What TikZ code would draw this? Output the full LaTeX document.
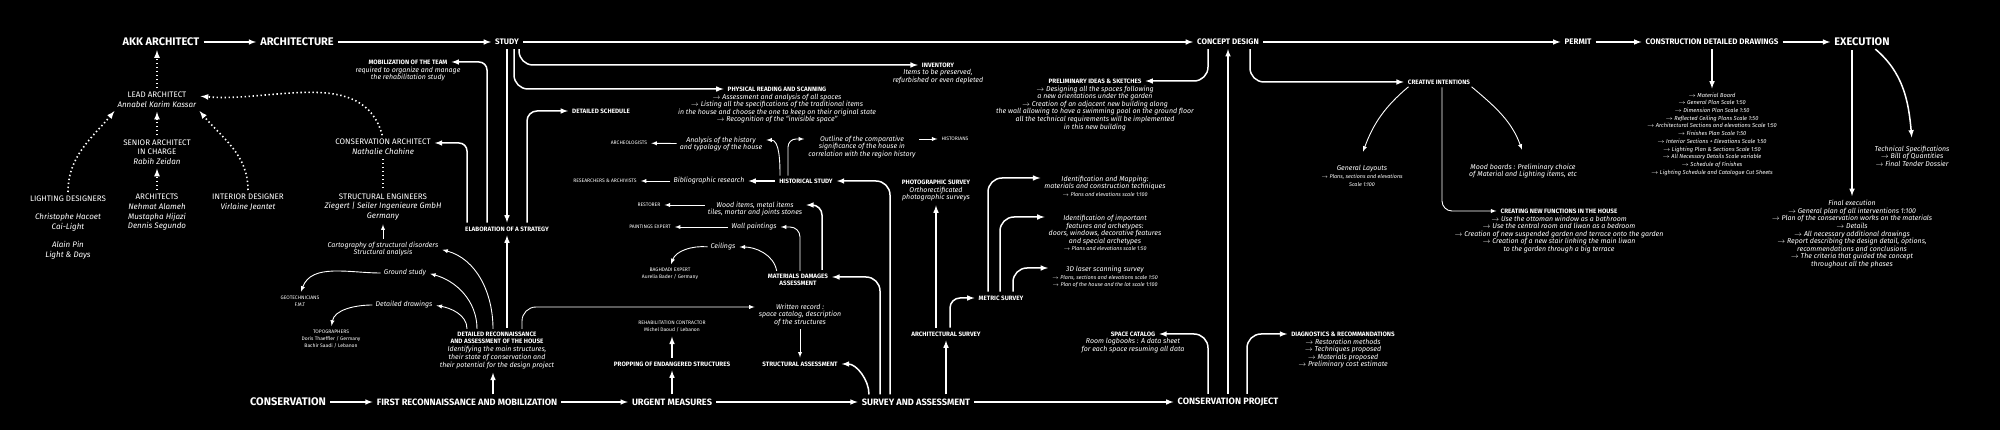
\documentclass[tikz,border=0pt]{standalone}
\usepackage{fontspec}
\setmainfont{Fira Sans}
\usetikzlibrary{positioning}

\newcommand{\arw}{$\rightarrow$\ }
\newcommand{\tinyline}{\fontsize{5.4}{7.6}\selectfont}

\tikzset{
  mainstep/.style={font=\bfseries\fontsize{8}{9.6}\selectfont},
  midstep/.style={font=\bfseries\fontsize{9.2}{11}\selectfont},
  largestep/.style={font=\bfseries\fontsize{11}{13}\selectfont},
  headline/.style={font=\bfseries\fontsize{6.3}{7.4}\selectfont, align=center},
  notetext/.style={font=\itshape\fontsize{7}{7.6}\selectfont, align=center},
  smalltext/.style={font=\itshape\fontsize{5.7}{7.7}\selectfont, align=center},
  whotext/.style={font=\fontsize{5}{7}\selectfont, align=center},
  crewtext/.style={font=\fontsize{8}{9.6}\selectfont, align=center},
  flowarrow/.style={-latex, line width=1.5pt, shorten >=3pt, shorten <=3pt},
  linkarrow/.style={-latex, line width=0.9pt, shorten >=3pt, shorten <=2pt},
  teamarrow/.style={-latex, line width=1.6pt, dash pattern=on 1.4pt off 2.6pt, shorten >=3pt, shorten <=3pt},
}

\begin{document}
\begin{tikzpicture}[x=1pt, y=-1pt, color=white, every node/.style={inner sep=1pt}]
  \useasboundingbox (0,0) rectangle (2000,430);
  \fill[black] (0,0) rectangle (2000,430);
  %
  % Architecture line:
  \node[largestep] (akk) at (161,42) {AKK ARCHITECT};
  \node[largestep] (archi) at (297,42) {ARCHITECTURE};
  \node[mainstep] (study) at (507,42) {STUDY};
  \node[mainstep] (concept) at (1228,42) {CONCEPT DESIGN};
  \node[mainstep] (permit) at (1578,42) {PERMIT};
  \node[mainstep] (cdd) at (1712,42) {CONSTRUCTION DETAILED DRAWINGS};
  \node[largestep] (exec) at (1862,42) {EXECUTION};
  % Conservation line:
  \node[largestep] (cons) at (288,402) {CONSERVATION};
  \node[midstep] (firstrec) at (467,402) {FIRST RECONNAISSANCE AND MOBILIZATION};
  \node[midstep] (urgent) at (672,402) {URGENT MEASURES};
  \node[midstep] (survey) at (916,402) {SURVEY AND ASSESSMENT};
  \node[midstep] (consproj) at (1228,402) {CONSERVATION PROJECT};
  %
  % Team:
  \node[crewtext] (lead) at (157,100) {LEAD ARCHITECT\\\textit{Annabel Karim Kassar}};
  \node[crewtext] (senior) at (157,152) {SENIOR ARCHITECT\\IN CHARGE\\\textit{Rabih Zeidan}};
  \node[crewtext, anchor=north] (archs) at (157,193) {ARCHITECTS\\\textit{Nehmat Alameh}\\\textit{Mustapha Hijazi}\\\textit{Dennis Segundo}};
  \node[crewtext, anchor=north] (lighting) at (68,195) {LIGHTING DESIGNERS\\[8pt]\textit{Christophe Hacoet}\\\textit{Cai-Light}\\[9pt]\textit{Alain Pin}\\\textit{Light \& Days}};
  \node[crewtext, anchor=north] (interior) at (248,193) {INTERIOR DESIGNER\\\textit{Virlaine Jeantet}};
  \node[crewtext] (consarch) at (383,147) {CONSERVATION ARCHITECT\\\textit{Nathalie Chahine}};
  \node[crewtext] (structeng) at (383,207) {STRUCTURAL ENGINEERS\\\textit{Ziegert | Seiler Ingenieure GmbH}\\\textit{Germany}};
  %
  % Study:
  \node[headline] (mobil) at (408,62) {MOBILIZATION OF THE TEAM};
  \node[notetext, below=0pt of mobil] (mobilnote) {required to organize and manage\\the rehabilitation study};
  \node[headline] (elab) at (507,229) {ELABORATION OF A STRATEGY};
  \node[headline] (sched) at (601,111) {DETAILED SCHEDULE};
  \node[headline] (inventory) at (938,65) {INVENTORY};
  \node[notetext, below=0pt of inventory] (invnote) {Items to be preserved,\\refurbished or even depleted};
  \node[headline] (physical) at (777,89) {PHYSICAL READING AND SCANNING};
  \node[notetext, below=0pt of physical] (physnote) {\arw Assessment and analysis of all spaces\\
    \arw Listing all the specifications of the traditional items\\
    in the house and choose the one to keep on their original state\\
    \arw Recognition of the ``invisible space''};
  %
  % Reconnaissance:
  \node[notetext] (cartog) at (383,249) {Cartography of structural disorders\\Structural analysis};
  \node[notetext] (ground) at (405,273) {Ground study};
  \node[whotext] (geotech) at (300,301) {GEOTECHNICIANS\\F.M.T};
  \node[notetext] (drawings) at (404,305) {Detailed drawings};
  \node[whotext] (topo) at (331,339) {TOPOGRAPHERS\\Doris Thaeffler / Germany\\Bachir Saadi / Lebanon};
  \node[headline] (detrec) at (497,338) {DETAILED RECONNAISSANCE\\AND ASSESSMENT OF THE HOUSE};
  \node[notetext, below=0pt of detrec] (detrecnote) {Identifying the main structures,\\their state of conservation and\\their potential for the design project};
  \node[headline] (propping) at (672,364) {PROPPING OF ENDANGERED STRUCTURES};
  \node[whotext] (contractor) at (672,327) {REHABILITATION CONTRACTOR\\Michel Daoud / Lebanon};
  \node[notetext] (written) at (800,315) {Written record :\\space catalog, description\\of the structures};
  \node[headline] (structass) at (800,364) {STRUCTURAL ASSESSMENT};
  %
  % Materials and history:
  \node[headline] (materials) at (798,280) {MATERIALS DAMAGES\\ASSESSMENT};
  \node[notetext] (wood) at (755,209) {Wood items, metal items\\tiles, mortar and joints stones};
  \node[whotext] (restorer) at (649,205) {RESTORER};
  \node[notetext] (wallpaint) at (754,227) {Wall paintings};
  \node[whotext] (paintexp) at (650,227) {PAINTINGS EXPERT};
  \node[notetext] (ceilings) at (723,247) {Ceilings};
  \node[whotext] (baghdadi) at (670,274) {BAGHDADI EXPERT\\Aurelia Bader / Germany};
  \node[headline] (hist) at (806,181) {HISTORICAL STUDY};
  \node[notetext] (biblio) at (709,181) {Bibliographic research};
  \node[whotext] (research) at (605,181) {RESEARCHERS \& ARCHIVISTS};
  \node[notetext] (analysis) at (721,144) {Analysis of the history\\and typology of the house};
  \node[whotext] (archeo) at (629,143) {ARCHEOLOGISTS};
  \node[notetext] (outline) at (862,147) {Outline of the comparative\\significance of the house in\\correlation with the region history};
  \node[whotext] (historians) at (955,139) {HISTORIANS};
  %
  % Surveys:
  \node[headline] (photo) at (936,182) {PHOTOGRAPHIC SURVEY};
  \node[notetext, below=0pt of photo] (photonote) {Orthorectificated\\photographic surveys};
  \node[headline] (archsurvey) at (946,334) {ARCHITECTURAL SURVEY};
  \node[headline] (metric) at (1001,298) {METRIC SURVEY};
  \node[notetext] (mapping) at (1105,186) {Identification and Mapping:\\materials and construction techniques\\{\tinyline\arw Plans and elevations scale 1:100}};
  \node[notetext] (features) at (1105,233) {Identification of important\\features and archetypes:\\doors, windows, decorative features\\and special archetypes\\{\tinyline\arw Plans and elevations scale 1:50}};
  \node[notetext] (laser) at (1105,277) {3D laser scanning survey\\{\tinyline\arw Plans, sections and elevations scale 1:50}\\{\tinyline\arw Plan of the house and the lot scale 1:100}};
  %
  % Concept and conservation project:
  \node[headline] (prelim) at (1095,81) {PRELIMINARY IDEAS \& SKETCHES};
  \node[notetext, below=0pt of prelim] (prelimnote) {\arw Designing all the spaces following\\
    a new orientations under the garden\\
    \arw Creation of an adjacent new building along\\
    the wall allowing to have a swimming pool on the ground floor\\
    all the technical requirements will be implemented\\
    in this new building};
  \node[headline] (spacecat) at (1133,334) {SPACE CATALOG};
  \node[notetext, below=0pt of spacecat] (spacenote) {Room logbooks : A data sheet\\for each space resuming all data};
  \node[headline] (diag) at (1343,334) {DIAGNOSTICS \& RECOMMANDATIONS};
  \node[notetext, below=0pt of diag] (diagnote) {\arw Restoration methods\\\arw Techniques proposed\\\arw Materials proposed\\\arw Preliminary cost estimate};
  \node[headline] (creative) at (1439,82) {CREATIVE INTENTIONS};
  \node[notetext] (layouts) at (1362,176) {General Layouts\\{\tinyline\arw Plans, sections and elevations}\\{\tinyline Scale 1:100}};
  \node[notetext] (mood) at (1523,171) {Mood boards : Preliminary choice\\of Material and Lighting items, etc};
  \node[headline] (newfunc) at (1559,211) {CREATING NEW FUNCTIONS IN THE HOUSE};
  \node[notetext, below=0pt of newfunc] (newfuncnote) {\arw Use the ottoman window as a bathroom\\
    \arw Use the central room and liwan as a bedroom\\
    \arw Creation of new suspended garden and terrace onto the garden\\
    \arw Creation of a new stair linking the main liwan\\
    to the garden through a big terrace};
  %
  % Drawings and execution:
  \node[smalltext] (cddlist) at (1712,134) {\arw Material Board\\
    \arw General Plan Scale 1:50\\
    \arw Dimension Plan Scale 1:50\\
    \arw Reflected Ceiling Plans Scale 1:50\\
    \arw Architectural Sections and elevations Scale 1:50\\
    \arw Finishes Plan Scale 1:50\\
    \arw Interior Sections + Elevations Scale 1:50\\
    \arw Lighting Plan \& Sections Scale 1:50\\
    \arw All Necessary Details Scale variable\\
    \arw Schedule of Finishes\\
    \arw Lighting Schedule and Catalogue Cut Sheets};
  \node[notetext] (techspec) at (1912,156) {Technical Specifications\\\arw Bill of Quantities\\\arw Final Tender Dossier};
  \node[notetext, anchor=north] (finalexec) at (1852,199) {Final execution\\
    \arw General plan of all interventions 1:100\\
    \arw Plan of the conservation works on the materials\\
    \arw Details\\
    \arw All necessary additional drawings\\
    \arw Report describing the design detail, options,\\
    recommendations and conclusions\\
    \arw The criteria that guided the concept\\
    throughout all the phases};
  %
  % Main Edges:
  \draw[flowarrow] (akk) -- (archi);
  \draw[flowarrow] (archi) -- (study);
  \draw[flowarrow] (study) -- (concept);
  \draw[flowarrow] (concept) -- (permit);
  \draw[flowarrow] (permit) -- (cdd);
  \draw[flowarrow] (cdd) -- (exec);
  \draw[flowarrow] (cons) -- (firstrec);
  \draw[flowarrow] (firstrec) -- (urgent);
  \draw[flowarrow] (urgent) -- (survey);
  \draw[flowarrow] (survey) -- (consproj);
  \draw[flowarrow] (consproj) -- (concept);
  %
  % Team Edges:
  \draw[teamarrow] (lead.north) -- (lead.north |- akk.south);
  \draw[teamarrow] (senior) -- (lead);
  \draw[teamarrow] (archs) -- (senior);
  \draw[teamarrow] (lighting.north) to[out=90, in=-130] (lead.south west);
  \draw[teamarrow] (interior.north) to[out=90, in=-50] (lead.south east);
  \draw[teamarrow] (consarch.north) to[out=105, in=-5] ([yshift=4pt]lead.east);
  \draw[line width=1.6pt, dash pattern=on 1.4pt off 2.6pt, shorten >=3pt, shorten <=3pt] (consarch) -- (structeng);
  %
  % Study Edges:
  \draw[flowarrow, rounded corners=14pt] ([xshift=12pt]study.south) |- (inventory);
  \draw[flowarrow, rounded corners=14pt] ([xshift=7pt]study.south) |- (physical);
  \draw[flowarrow] (study) -- (elab);
  \draw[flowarrow, rounded corners=8pt] ([xshift=-20pt]elab.north) |- (mobil);
  \draw[flowarrow, rounded corners=8pt] ([xshift=-40pt]elab.north) |- ([yshift=4pt]consarch.east);
  \draw[flowarrow, rounded corners=10pt] ([xshift=20pt]elab.north) |- (sched);
  \draw[flowarrow] (detrec.north -| elab.south) -- (elab.south);
  \draw[linkarrow] (cartog.north) -- (structeng.south);
  %
  % Reconnaissance Edges:
  \coordinate (recfoot) at ([xshift=26pt]firstrec.north);
  \draw[flowarrow] (recfoot) -- (recfoot |- detrecnote.south);
  \draw[linkarrow] ([xshift=-4pt]detrec.north) to[out=90, in=-15] (cartog.east);
  \draw[linkarrow] ([xshift=-20pt]detrec.north) to[out=90, in=-15] (ground.east);
  \draw[linkarrow] ([xshift=-30pt]detrec.north) to[out=90, in=-10] (drawings.east);
  \draw[linkarrow] (ground.west) to[out=180, in=70] (geotech.north);
  \draw[linkarrow] (drawings.west) to[out=180, in=80] (topo.north);
  \draw[linkarrow, rounded corners=14pt] ([xshift=25pt]detrec.north) |- ([yshift=8pt]written.west);
  \draw[linkarrow] (written) -- (structass);
  \draw[flowarrow] (urgent) -- (propping);
  \draw[flowarrow] (propping) -- (contractor);
  %
  % Survey Edges:
  \draw[flowarrow] ([xshift=-47pt]survey.north) to[out=90, in=0] (structass.east);
  \draw[flowarrow, rounded corners=14pt] ([xshift=-36pt]survey.north) |- ([yshift=3pt]materials.east);
  \draw[flowarrow, rounded corners=14pt] ([xshift=-26pt]survey.north) |- (hist.east);
  \draw[flowarrow] (survey.north -| archsurvey.south) -- (archsurvey.south);
  \draw[flowarrow] (archsurvey.north -| photonote.south) -- (photonote.south);
  \draw[flowarrow, rounded corners=10pt] ([xshift=4pt]archsurvey.north) |- (metric.west);
  \draw[flowarrow, rounded corners=14pt] ([xshift=-13pt]metric.north) |- ([yshift=8pt]mapping.west);
  \draw[flowarrow, rounded corners=14pt] ([xshift=-1pt]metric.north) |- ([yshift=16pt]features.west);
  \draw[flowarrow, rounded corners=14pt] ([xshift=12pt]metric.north) |- ([yshift=9pt]laser.west);
  %
  % Materials and history Edges:
  \draw[flowarrow, rounded corners=10pt] ([xshift=24pt]materials.north) |- ([yshift=4pt]wood.east);
  \draw[linkarrow, rounded corners=10pt] ([xshift=2pt]materials.north) |- (wallpaint.east);
  \draw[linkarrow] ([xshift=-21pt]materials.north) to[out=100, in=0] (ceilings.east);
  \draw[linkarrow] ([yshift=4pt]wood.west) -- ([yshift=4pt]wood.west -| restorer.east);
  \draw[linkarrow] (wallpaint) -- (paintexp);
  \draw[linkarrow] (ceilings.west) to[out=175, in=70] (baghdadi.north);
  \draw[flowarrow] (hist) -- (biblio);
  \draw[linkarrow] (biblio) -- (research);
  \draw[linkarrow] ([xshift=-26pt]hist.north) to[out=90, in=0] ([yshift=4pt]analysis.east);
  \draw[linkarrow] (analysis) -- (archeo);
  \draw[linkarrow, rounded corners=8pt] ([xshift=-18pt]hist.north) |- ([yshift=8pt]outline.west);
  \draw[linkarrow] ([yshift=8pt]outline.east) -- (historians);
  %
  % Concept Edges:
  \draw[flowarrow, rounded corners=14pt] ([xshift=-20pt]concept.south) |- (prelim);
  \draw[flowarrow, rounded corners=14pt] ([xshift=22pt]concept.south) |- (creative);
  \draw[flowarrow, rounded corners=14pt] ([xshift=-20pt]consproj.north) |- (spacecat);
  \draw[flowarrow, rounded corners=14pt] ([xshift=19pt]consproj.north) |- (diag);
  \draw[linkarrow] ([xshift=-29pt]creative.south) to[out=-140, in=70] ([yshift=10pt]layouts.north);
  \draw[linkarrow] ([xshift=31pt]creative.south) to[out=-40, in=110] ([yshift=10pt]mood.north);
  \draw[linkarrow, rounded corners=10pt] ([xshift=3pt]creative.south) |- (newfunc);
  %
  % Execution Edges:
  \draw[flowarrow] (cdd.south -| cddlist.north) -- (cddlist.north);
  \draw[flowarrow] (exec.south -| finalexec.north) -- (finalexec.north);
  \draw[flowarrow] ([xshift=11pt]exec.south) to[out=-40, in=95] ([yshift=4pt]techspec.north);
\end{tikzpicture}
\end{document}
